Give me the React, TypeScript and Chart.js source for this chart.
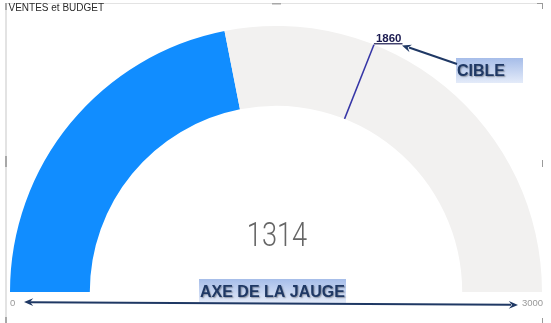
import React, { useEffect, useRef } from "react";
import Chart from "chart.js/auto";

const chartTitle = "VENTES et BUDGET";
const categories = ["Ventes", "Reste"];
const salesValue = [1314];
const gaugeRange = [0, 3000];
const targetValue = [1860];
const axisTickLabels = ["0", "3000"];
const calloutLabels = ["CIBLE", "AXE DE LA JAUGE"];

const W = 551;
const H = 323;

function arrowHead(ctx: CanvasRenderingContext2D, fx: number, fy: number, tx: number, ty: number, size: number) {
  const a = Math.atan2(ty - fy, tx - fx);
  ctx.beginPath();
  ctx.moveTo(tx, ty);
  ctx.lineTo(tx - size * Math.cos(a - 0.4), ty - size * Math.sin(a - 0.4));
  ctx.lineTo(tx - size * 0.6 * Math.cos(a), ty - size * 0.6 * Math.sin(a));
  ctx.lineTo(tx - size * Math.cos(a + 0.4), ty - size * Math.sin(a + 0.4));
  ctx.closePath();
  ctx.fill();
}

function gradBox(ctx: CanvasRenderingContext2D, x: number, y: number, w: number, h: number) {
  const g = ctx.createLinearGradient(0, y, 0, y + h);
  g.addColorStop(0, "#a6bde9");
  g.addColorStop(1, "#e4ebf9");
  ctx.fillStyle = g;
  ctx.fillRect(x, y, w, h);
}

function shadowText(ctx: CanvasRenderingContext2D, text: string, x: number, y: number) {
  ctx.save();
  ctx.font = "bold 16px 'Liberation Sans', Arial, sans-serif";
  ctx.textBaseline = "alphabetic";
  ctx.textAlign = "left";
  ctx.shadowColor = "rgba(0,0,0,0.35)";
  ctx.shadowOffsetX = 1;
  ctx.shadowOffsetY = 1;
  ctx.shadowBlur = 1.5;
  ctx.fillStyle = "#1f3864";
  ctx.fillText(text, x, y);
  ctx.restore();
}

const overlayPlugin = {
  id: "gaugeOverlay",
  afterDraw(chart: any) {
    const ctx: CanvasRenderingContext2D = chart.ctx;
    const arc: any = chart.getDatasetMeta(0).data[0];
    if (!arc) return;
    const { x, y, innerRadius, outerRadius } = arc.getProps(["x", "y", "innerRadius", "outerRadius"], true);
    const [mn, mx] = gaugeRange;

    // frame (selection box look)
    ctx.save();
    ctx.fillStyle = "#e3e3e3";
    ctx.fillRect(5, 3, 2, H - 3);
    ctx.fillRect(5, 3, 538, 1);
    ctx.fillStyle = "#a8a8a8";
    ctx.fillRect(5, 156, 2, 11);
    ctx.fillRect(272, 3, 9, 1.5);
    ctx.fillRect(5, 3, 2, 7);
    ctx.fillRect(5, 317, 2, 6);
    ctx.fillStyle = "#9a9a9a";
    ctx.fillRect(542, 3, 1, 6);
    ctx.fillRect(537, 3, 6, 1);
    ctx.fillRect(542, 160, 1, 7);
    ctx.fillRect(542, 318, 1, 5);
    ctx.restore();

    // title
    ctx.save();
    ctx.font = "10px 'Liberation Sans', Arial, sans-serif";
    ctx.fillStyle = "#2b2b2b";
    ctx.textBaseline = "alphabetic";
    ctx.fillText(chartTitle, 8.5, 11);
    ctx.restore();

    // target line
    const t = targetValue[0];
    const ang = -Math.PI + ((t - mn) / (mx - mn)) * Math.PI;
    const ox = x + outerRadius * Math.cos(ang);
    const oy = y + outerRadius * Math.sin(ang);
    const ix = x + innerRadius * Math.cos(ang);
    const iy = y + innerRadius * Math.sin(ang);
    ctx.save();
    ctx.strokeStyle = "#3535a6";
    ctx.lineWidth = 1.5;
    ctx.beginPath();
    ctx.moveTo(ix, iy);
    ctx.lineTo(ox, oy);
    ctx.stroke();

    // target label
    ctx.font = "bold 11.5px 'Liberation Sans', Arial, sans-serif";
    ctx.fillStyle = "#1a1a50";
    const lbl = String(t);
    const tw = ctx.measureText(lbl).width;
    ctx.fillText(lbl, ox + 2, oy - 3);
    ctx.fillRect(ox, oy - 1.5, tw + 3, 1.2);
    ctx.restore();

    // center value
    ctx.save();
    ctx.font = "300 34px Roboto, sans-serif";
    ctx.fillStyle = "#666666";
    ctx.textAlign = "center";
    ctx.textBaseline = "alphabetic";
    ctx.translate(x + 1, 246);
    ctx.scale(0.8, 1);
    ctx.fillText(String(salesValue[0]), 0, 0);
    ctx.restore();

    // axis tick labels
    ctx.save();
    ctx.font = "9.5px 'Liberation Sans', Arial, sans-serif";
    ctx.fillStyle = "#999999";
    ctx.textBaseline = "middle";
    ctx.textAlign = "left";
    ctx.fillText(axisTickLabels[0], 10, 303);
    ctx.fillText(axisTickLabels[1], 522, 303);
    ctx.restore();

    // CIBLE callout
    ctx.save();
    gradBox(ctx, 456, 58, 67, 25);
    shadowText(ctx, calloutLabels[0], 457, 76);
    ctx.strokeStyle = "#1f3864";
    ctx.fillStyle = "#1f3864";
    ctx.lineWidth = 2;
    ctx.beginPath();
    ctx.moveTo(457, 64);
    ctx.lineTo(409, 47.5);
    ctx.stroke();
    arrowHead(ctx, 457, 64, 402, 45.5, 10);
    ctx.restore();

    // axis callout
    ctx.save();
    gradBox(ctx, 199, 279, 147, 24);
    shadowText(ctx, calloutLabels[1], 200, 297);
    ctx.strokeStyle = "#1f3864";
    ctx.fillStyle = "#1f3864";
    ctx.lineWidth = 2;
    ctx.beginPath();
    ctx.moveTo(30, 302.2);
    ctx.lineTo(511, 304.8);
    ctx.stroke();
    arrowHead(ctx, 518, 305, 24, 302, 10);
    arrowHead(ctx, 24, 302, 518, 305, 10);
    ctx.restore();
  },
};

export default function App() {
  const ref = useRef<HTMLCanvasElement>(null);
  useEffect(() => {
    document.body.style.margin = "0";
    const [mn, mx] = gaugeRange;
    const chart = new Chart(ref.current as HTMLCanvasElement, {
      type: "doughnut",
      data: {
        labels: categories,
        datasets: [
          {
            data: [salesValue[0] - mn, mx - salesValue[0]],
            backgroundColor: ["#118DFF", "#F2F1F0"],
            borderWidth: 0,
          },
        ],
      },
      options: {
        responsive: false,
        animation: false,
        devicePixelRatio: 1,
        rotation: -90,
        circumference: 180,
        cutout: "70%",
        layout: { padding: { left: 10, right: 9, top: 26, bottom: 31 } },
        plugins: {
          legend: { display: false },
          tooltip: { enabled: false },
          title: { display: false },
        },
      },
      plugins: [overlayPlugin],
    });
    return () => chart.destroy();
  }, []);
  return (
    <div style={{ position: "fixed", left: 0, top: 0, width: W, height: H, background: "#fff" }}>
      <canvas ref={ref} width={W} height={H} />
    </div>
  );
}
